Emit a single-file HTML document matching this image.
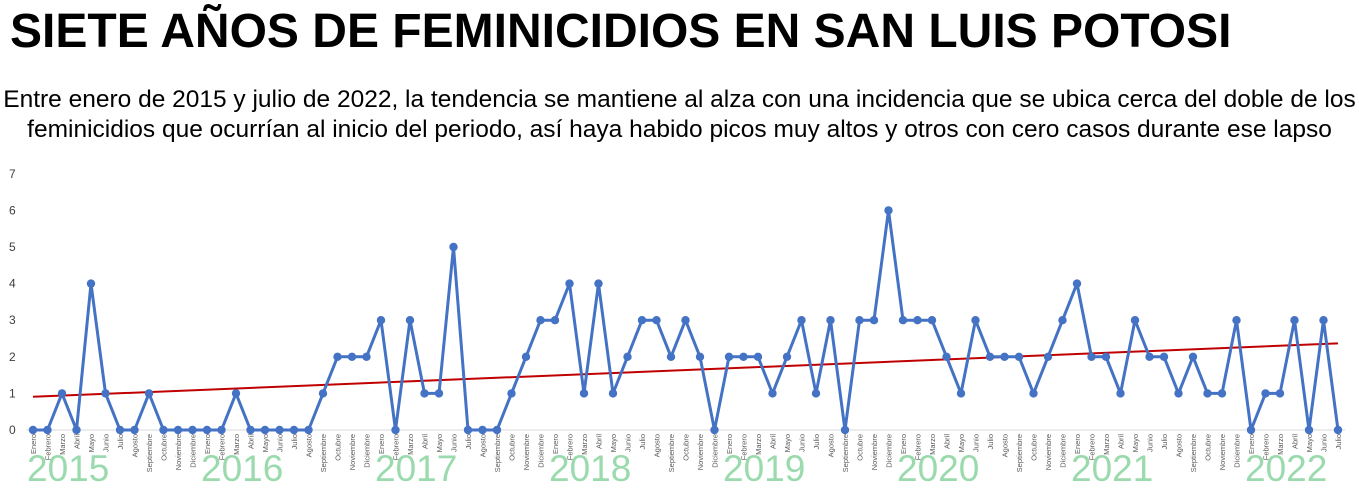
<!DOCTYPE html>
<html><head><meta charset="utf-8"><style>
body{margin:0;background:#fff;width:1359px;height:500px;overflow:hidden;font-family:"Liberation Sans",Arial,sans-serif}
h1{position:absolute;left:10px;top:4px;margin:0;font-size:48px;font-weight:bold;color:#000;white-space:nowrap}
p{position:absolute;left:0;top:85px;width:1359px;margin:0;text-align:center;font-size:24.5px;line-height:30px;color:#000}
svg{position:absolute;left:0;top:0}
</style></head><body>
<h1>SIETE AÑOS DE FEMINICIDIOS EN SAN LUIS POTOSI</h1>
<p>Entre enero de 2015 y julio de 2022, la tendencia se mantiene al alza con una incidencia que se ubica cerca del doble de los feminicidios que ocurrían al inicio del periodo, así haya habido picos muy altos y otros con cero casos durante ese lapso</p>
<svg id="c" width="1359" height="500"></svg>
<script>
const years=["2015","2016","2017","2018","2019","2020","2021","2022"];
const months=["Enero","Febrero","Marzo","Abril","Mayo","Junio","Julio","Agosto","Septiembre","Octubre","Noviembre","Diciembre"];
const yTicks=[0,1,2,3,4,5,6,7];
const values=[0,0,1,0,4,1,0,0,1,0,0,0,
0,0,1,0,0,0,0,0,1,2,2,2,
3,0,3,1,1,5,0,0,0,1,2,3,
3,4,1,4,1,2,3,3,2,3,2,0,
2,2,2,1,2,3,1,3,0,3,3,6,
3,3,3,2,1,3,2,2,2,1,2,3,
4,2,2,1,3,2,2,1,2,1,1,3,
0,1,1,3,0,3,0];
const NS="http://www.w3.org/2000/svg",svg=document.getElementById('c');
const x0=33,dx=14.5,y0=430,dy=36.6;
const X=i=>x0+i*dx,Y=v=>y0-v*dy;
function el(t,a,p){const e=document.createElementNS(NS,t);for(const k in a)e.setAttribute(k,a[k]);(p||svg).appendChild(e);return e;}
const base=el('line',{x1:26,x2:1345,y1:y0,y2:y0,stroke:'#d9d9d9','stroke-width':1});

yTicks.forEach(v=>{const t=el('text',{x:9,y:Y(v)+4,'font-size':12,fill:'#404040'});t.textContent=v;
});
years.forEach((yr,k)=>{const t=el('text',{x:X(k*12)-6,y:481,'font-size':37,fill:'#8fd6a4','fill-opacity':0.9});t.textContent=yr;
});
values.forEach((v,i)=>{const xx=X(i)+3;const t=el('text',{x:0,y:0,'font-size':7.5,fill:'#595959','text-anchor':'end',transform:`translate(${xx},434) rotate(-90)`});
t.textContent=months[i%12];});
const n=values.length;let sx=0,sy=0,sxx=0,sxy=0;values.forEach((v,i)=>{sx+=i;sy+=v;sxx+=i*i;sxy+=i*v;});
const b=(n*sxy-sx*sy)/(n*sxx-sx*sx),a=(sy-b*sx)/n;
const tr=el('line',{x1:X(0),y1:Y(a),x2:X(n-1),y2:Y(a+b*(n-1)),stroke:'#c00000','stroke-width':2});

const ln=el('polyline',{points:values.map((v,i)=>X(i)+','+Y(v)).join(' '),fill:'none',stroke:'#4472c4','stroke-width':3,'stroke-linejoin':'round'});

values.forEach((v,i)=>{const c=el('circle',{cx:X(i),cy:Y(v),r:4.2,fill:'#4472c4'});
});
</script>
</body></html>
